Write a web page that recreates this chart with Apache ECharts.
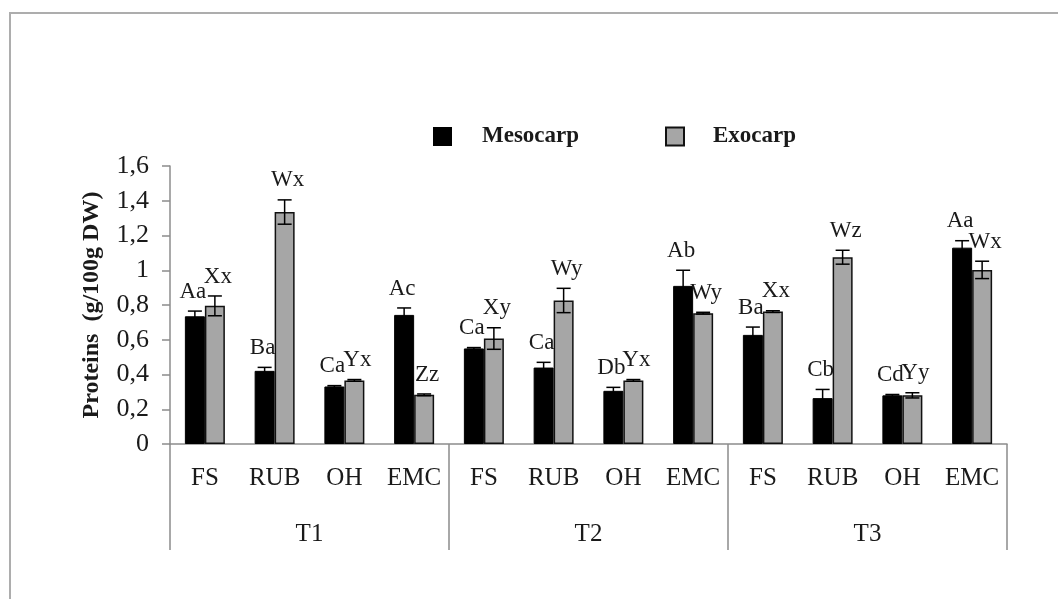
<!DOCTYPE html>
<html>
<head>
<meta charset="utf-8">
<script src="https://cdn.jsdelivr.net/npm/echarts@6/dist/echarts.min.js"></script>
<style>html,body{margin:0;padding:0;background:#fff;}#c{width:1058px;height:599px;}</style>
</head>
<body>
<div id="c"></div>
<script>
const categories = ['FS','RUB','OH','EMC','FS','RUB','OH','EMC','FS','RUB','OH','EMC'];
const groups = ['T1','T2','T3'];
const mesocarp    = [0.735,0.421,0.331,0.743, 0.550,0.440,0.306,0.910, 0.628,0.264,0.280,1.130];
const mesocarpErr = [0.030,0.020,0.005,0.040, 0.005,0.030,0.020,0.090, 0.045,0.050,0.005,0.040];
const exocarp     = [0.795,1.335,0.366,0.283, 0.607,0.826,0.366,0.753, 0.762,1.075,0.280,1.002];
const exocarpErr  = [0.057,0.070,0.005,0.005, 0.062,0.070,0.005,0.005, 0.005,0.040,0.015,0.050];
const mesoLetters = ['Aa','Ba','Ca','Ac','Ca','Ca','Db','Ab','Ba','Cb','Cd','Aa'];
const exoLetters  = ['Xx','Wx','Yx','Zz','Xy','Wy','Yx','Wy','Xx','Wz','Yy','Wx'];
const yMin = 0, yMax = 1.6, yStep = 0.2;

const FONT = 'Liberation Serif';
const AXIS_GRAY = '#8c8c8c';

function errSeries(vals, errs, letters, dx, ldx) {
  return {
    type: 'custom',
    z: 10,
    silent: true,
    encode: { x: 0, y: 1 },
    data: vals.map((v, i) => [i, v, errs[i]]),
    renderItem: function (params, api) {
      const i = api.value(0), v = api.value(1), e = api.value(2);
      const top = api.coord([i, v + e]);
      const bot = api.coord([i, v - e]);
      const x = top[0] + dx;
      const hw = 7;
      const ls = { stroke: '#000', lineWidth: 1.5 };
      return {
        type: 'group',
        children: [
          { type: 'line', shape: { x1: x, y1: top[1], x2: x, y2: bot[1] }, style: ls },
          { type: 'line', shape: { x1: x - hw, y1: top[1], x2: x + hw, y2: top[1] }, style: ls },
          { type: 'line', shape: { x1: x - hw, y1: bot[1], x2: x + hw, y2: bot[1] }, style: ls },
          { type: 'text', style: { text: letters[params.dataIndex], x: x + ldx, y: top[1] - 8,
              align: 'center', verticalAlign: 'bottom', fontSize: 23, fontFamily: FONT, fill: '#1a1a1a' } }
        ]
      };
    }
  };
}

const chart = echarts.init(document.getElementById('c'), null, { renderer: 'canvas' });
chart.setOption({
  animation: false,
  backgroundColor: '#fff',
  graphic: [{
    type: 'polyline', silent: true,
    shape: { points: [[10, 599], [10, 13], [1058, 13]] },
    style: { stroke: '#adadad', lineWidth: 2, fill: null }
  }],
  legend: [{
    data: ['Mesocarp'], left: 428, top: 120, itemWidth: 17, itemHeight: 17, icon: 'rect',
    textStyle: { fontFamily: FONT, fontWeight: 'bold', fontSize: 23, color: '#1a1a1a', padding: [0, 0, 0, 26] }
  }, {
    data: ['Exocarp'], left: 660, top: 120, itemWidth: 18, itemHeight: 18, icon: 'rect',
    textStyle: { fontFamily: FONT, fontWeight: 'bold', fontSize: 23, color: '#1a1a1a', padding: [12, 0, 0, 24] }
  }],
  grid: { left: 170, right: 51, top: 166, bottom: 155, containLabel: false },
  xAxis: [{
    type: 'category', data: categories, position: 'bottom',
    axisLine: { show: true, lineStyle: { color: AXIS_GRAY, width: 1.5 } },
    axisTick: { show: true, length: 106, interval: function (idx) { return idx % 4 === 0; },
                lineStyle: { color: AXIS_GRAY, width: 1.5 } },
    axisLabel: { interval: 0, margin: 22, fontFamily: FONT, fontSize: 25, color: '#1a1a1a' }
  }, {
    type: 'category', data: groups, position: 'bottom',
    axisLine: { show: false }, axisTick: { show: false },
    axisLabel: { margin: 78, fontFamily: FONT, fontSize: 25, color: '#1a1a1a' }
  }],
  yAxis: {
    type: 'value', min: yMin, max: yMax, interval: yStep,
    name: 'Proteins  (g/100g DW)', nameLocation: 'middle', nameGap: 66,
    nameTextStyle: { fontFamily: FONT, fontWeight: 'bold', fontSize: 24, color: '#1a1a1a' },
    axisLine: { show: true, lineStyle: { color: AXIS_GRAY, width: 1.5 } },
    axisTick: { show: true, inside: false, length: 8, lineStyle: { color: AXIS_GRAY, width: 1.5 } },
    splitLine: { show: false },
    axisLabel: {
      margin: 21, fontFamily: FONT, fontSize: 26, color: '#1a1a1a',
      formatter: function (v) { return String(Number(v.toFixed(1))).replace('.', ','); }
    }
  },
  series: [{
    name: 'Mesocarp', type: 'bar', data: mesocarp, barWidth: 20, barGap: '0%',
    itemStyle: { color: '#000', borderColor: '#000', borderWidth: 1 }
  }, {
    name: 'Exocarp', type: 'bar', data: exocarp, barWidth: 20, barGap: '0%',
    itemStyle: { color: '#a6a6a6', borderColor: '#111', borderWidth: 1.5 }
  },
  errSeries(mesocarp, mesocarpErr, mesoLetters, -10, -2),
  errSeries(exocarp, exocarpErr, exoLetters, 10, 3)
  ]
});
</script>
</body>
</html>
